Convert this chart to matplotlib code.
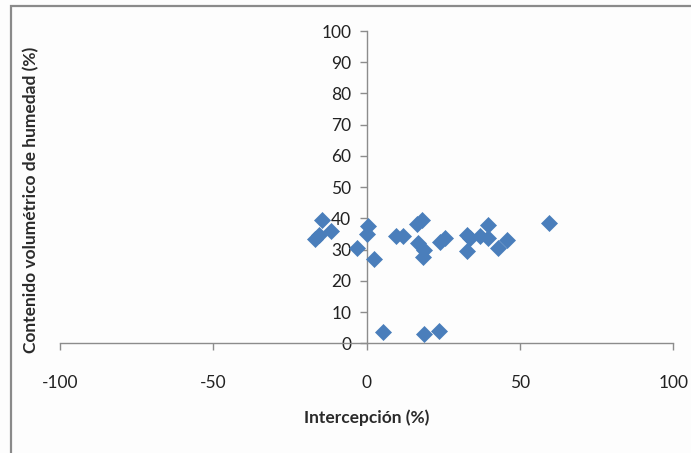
import matplotlib
matplotlib.use("Agg")
import matplotlib.pyplot as plt
from matplotlib.patches import Rectangle

# Interception vs. volumetric soil moisture
intercepcion = [-14.4, -16.9, -15.5, -11.7, -3.3, 0.3, 0.0, 2.4, 9.7, 11.7,
                16.3, 17.9, 16.8, 18.7, 18.5, 23.9, 25.5, 32.6, 33.7, 32.8,
                37.0, 39.7, 39.7, 42.9, 45.7, 59.6, 5.2, 18.8, 23.6]
humedad = [39.5, 33.4, 34.7, 35.8, 30.4, 37.4, 34.9, 26.9, 34.4, 34.4,
           38.1, 39.5, 32.1, 29.9, 27.5, 32.4, 33.7, 34.7, 33.7, 29.4,
           34.2, 33.7, 37.9, 30.4, 33.1, 38.5, 3.7, 2.9, 3.9]

x_ticks = [-100, -50, 0, 50, 100]
y_ticks = [0, 10, 20, 30, 40, 50, 60, 70, 80, 90, 100]

W, H = 691, 453
fig = plt.figure(figsize=(W / 100, H / 100), dpi=100)
fig.patch.set_facecolor("#fdfdfd")

# chart frame (left and top edges visible)
fig.patches.append(Rectangle((11 / W, -0.1), 1.2, (H - 6) / H + 0.1,
                             transform=fig.transFigure, fill=False,
                             edgecolor="#8a8a8a", linewidth=1.6))

left, right = 60 / W, 673.3 / W
bottom, top = (H - 343.3) / H, (H - 31) / H
ax = fig.add_axes([left, bottom, right - left, top - bottom])
ax.set_facecolor("none")

ax.plot(intercepcion, humedad, linestyle="none", marker="D",
        markersize=8.2, color="#4a7ebb", markeredgecolor="#4a7ebb",
        markeredgewidth=0.5, zorder=3)

ax.set_xlim(-100, 100)
ax.set_ylim(0, 100)

for s in ("top", "right"):
    ax.spines[s].set_visible(False)
ax.spines["left"].set_position(("data", 0))
ax.spines["bottom"].set_position(("data", 0))
for s in ("left", "bottom"):
    ax.spines[s].set_color("#8c8c8c")
    ax.spines[s].set_linewidth(1.0)

font = "Lato"
ax.set_xticks(x_ticks)
ax.set_xticklabels([str(v) for v in x_ticks], fontname=font, fontsize=12.5)
ax.set_yticks(y_ticks)
ax.set_yticklabels([str(v) for v in y_ticks], fontname=font, fontsize=12.5)
ax.tick_params(axis="x", direction="out", length=5, width=1.0,
               color="#8c8c8c", pad=18, labelcolor="#222222")
ax.tick_params(axis="y", direction="out", length=5, width=1.0,
               color="#8c8c8c", pad=6, labelcolor="#222222")

fig.text(366.7 / W, 1 - 418 / H, "Intercepción (%)", ha="center",
         va="center", fontname=font, fontweight="bold", fontsize=12.5,
         color="#2a2a2a")
fig.text(31 / W, 1 - 200 / H, "Contenido volumétrico de humedad (%)",
         ha="center", va="center", rotation=90, fontname=font,
         fontweight="bold", fontsize=12.5, color="#2a2a2a")

fig.savefig("out.png", dpi=100, facecolor=fig.get_facecolor())
